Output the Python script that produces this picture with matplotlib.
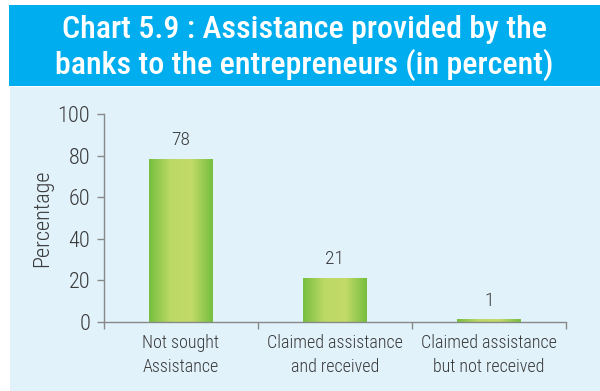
import matplotlib
matplotlib.use("Agg")
import matplotlib.pyplot as plt
import numpy as np
from matplotlib.patches import Rectangle
from matplotlib.colors import LinearSegmentedColormap

categories = ["Not sought\nAssistance", "Claimed assistance\nand received", "Claimed assistance\nbut not received"]
values = [78, 21, 1]
yticks = [0, 20, 40, 60, 80, 100]
title = "Chart 5.9 : Assistance provided by the\nbanks to the entrepreneurs (in percent)"

narrow = ["Roboto Condensed", "Barlow Semi Condensed", "DejaVu Sans"]
txt = "#3a3a3a"

fig = plt.figure(figsize=(6, 3.91), dpi=100)
W, H = 600, 391

# banner + panel
fig.patches.append(Rectangle((9 / W, 1 - 86 / H), 1 - 9 / W, 81 / H, transform=fig.transFigure,
                             facecolor="#00AEEF", edgecolor="none", zorder=-2))
fig.patches.append(Rectangle((10 / W, 0), 1 - 10 / W, 1 - 87 / H, transform=fig.transFigure,
                             facecolor="#E1F2FB", edgecolor="none", zorder=-2))
fig.text(304 / W, 1 - 48 / H, title, ha="center", va="center", color="white",
         fontsize=23, fontweight="medium", family=narrow, linespacing=1.2)

ax = fig.add_axes([104 / W, 1 - 322 / H, 462 / W, 208 / H])
ax.set_facecolor("none")

x = np.arange(len(values))
bars = ax.bar(x, values, width=0.41, color="none", edgecolor="none")

# horizontal green gradient inside each bar
cmap = LinearSegmentedColormap.from_list("g", ["#76BF3F", "#BDD965", "#C3DB68", "#76BF3F"])
grad = np.linspace(0, 1, 100).reshape(1, -1)
for b in bars:
    ax.imshow(grad, cmap=cmap, aspect="auto", zorder=2,
              extent=[b.get_x(), b.get_x() + b.get_width(), 0, b.get_height()])

for xi, v in zip(x, values):
    ax.text(xi, v + 5, str(v), ha="center", va="bottom", fontsize=14, color=txt,
            family=narrow, fontweight="light")

ax.set_xlim(-0.5, 2.5)
ax.set_ylim(0, 100)
ax.set_yticks(yticks)
ax.set_xticks(x)
ax.set_xticklabels(categories, fontsize=13, color=txt, family=narrow, fontweight="light",
                   linespacing=1.4)
ax.set_xticks([-0.5, 0.5, 1.5, 2.5], minor=True)
ax.tick_params(axis="x", which="major", length=0, pad=9)
ax.tick_params(axis="x", which="minor", length=5, color="#888888", width=1)
ax.tick_params(axis="y", length=5, color="#888888", width=1, labelsize=16, labelcolor=txt, pad=5)
for lbl in ax.get_yticklabels():
    lbl.set_family(narrow)
    lbl.set_fontweight("light")
ax.set_ylabel("Percentage", fontsize=16, color=txt, family=narrow, fontweight="light", labelpad=3)

for s in ["top", "right"]:
    ax.spines[s].set_visible(False)
for s in ["left", "bottom"]:
    ax.spines[s].set_color("#888888")
    ax.spines[s].set_linewidth(1)

fig.savefig("out.png", dpi=100)
